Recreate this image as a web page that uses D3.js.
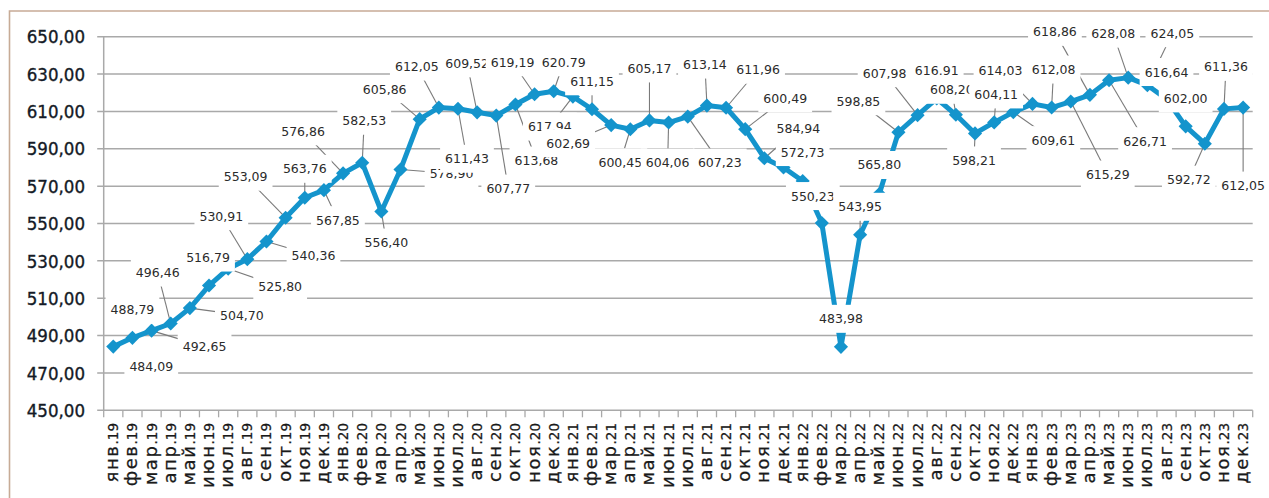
<!DOCTYPE html>
<html><head><meta charset="utf-8">
<script src="https://cdn.jsdelivr.net/npm/d3@7"></script>
<style>
html,body{margin:0;padding:0;background:#fff;}
svg{display:block;}
</style></head>
<body>
<svg id="chart" width="1269" height="498"></svg>
<script>
// ---------- DATA ----------
const monthNames = ["янв","фев","мар","апр","май","июн","июл","авг","сен","окт","ноя","дек"];
const years = ["19","20","21","22","23"];
const categories = years.flatMap(y => monthNames.map(m => m + "." + y));

const values = [
  484.09, 488.79, 492.65, 496.46, 504.70, 516.79, 525.80, 530.91, 540.36, 553.09, 563.76, 567.85,
  576.86, 582.53, 556.40, 578.90, 605.86, 612.05, 611.43, 609.52, 607.77, 613.68, 619.19, 620.79,
  617.94, 611.15, 602.69, 600.45, 605.17, 604.06, 607.23, 613.14, 611.96, 600.49, 584.94, 580.00,
  572.73, 550.23, 483.98, 543.95, 565.80, 598.85, 607.98, 616.91, 608.20, 598.21, 604.11, 609.61,
  614.03, 612.08, 615.29, 618.86, 626.71, 628.08, 624.05, 616.64, 602.00, 592.72, 611.36, 612.05
];

const labelTexts = [
  "484,09","488,79","492,65","496,46","504,70","516,79","525,80","530,91","540,36","553,09","563,76","567,85",
  "576,86","582,53","556,40","578,90","605,86","612,05","611,43","609,52","607,77","613,68","619,19","620.79",
  "617,94","611,15","602,69","600,45","605,17","604,06","607,23","613,14","611,96","600,49","584,94",null,
  "572,73","550,23","483,98","543,95","565,80","598,85","607,98","616.91","608,20","598,21","604,11","609,61",
  "614,03","612,08","615,29","618,86","626,71","628,08","624,05","616,64","602,00","592,72","611,36","612,05"
];

const yTicks = [450, 470, 490, 510, 530, 550, 570, 590, 610, 630, 650];

// ---------- LAYOUT (label placement, px offsets from the point) ----------
const labelOffsets = [
  [38,20],[0,-28],[53,16],[-13,-51],[52,7],[-1,-28],[52,18],[-26,-43],[47,14],[-40,-41],[0,-29],[14,30],
  [-40,-42],[2,-42],[5,31],[51,4],[-35,-30],[-22,-41],[9,50],[-10,-49],[-22,-32],[21,56],[-22,-32],[10,-29],
  [-23,30],[0,-28],[-43,18],[-10,33],[0,-52],[-1,40],[32,46],[-2,-41],[32,-38],[40,-31],[34,-30],[0,0],
  [0,-29],[-9,-27],[0,-28],[0,-28],[0,-29],[-40,-31],[-33,-42],[0,-28],[-4,-25],[-1,27],[2,-28],[40,28],
  [-32,-33],[2,-38],[37,73],[-35,-63],[36,61],[-15,-44],[25,-52],[0,-27],[0,-28],[-16,36],[2,-42],[0,78]
];
labelOffsets[20] = [12,73];
const noLeader = new Set([0,1,5,35,36,38,40,43,55,56]);

// ---------- CHART ----------
const svg = d3.select("#chart");
const W = 1269, H = 498;
const plotLeft = 103.7, plotRight = 1252.7, plotTop = 36.7, plotBottom = 410.3;

const x = d3.scaleBand().domain(categories).range([plotLeft, plotRight]).padding(0);
const y = d3.scaleLinear().domain([450, 650]).range([plotBottom, plotTop]);
const cx = d => x(d) + x.bandwidth() / 2;

// frame
svg.append("path")
  .attr("d", `M9.5,${H} L9.5,11 L${W},11`)
  .attr("fill", "none").attr("stroke", "#c7ab96").attr("stroke-width", 1.6);

// gridlines
const gridColor = "#a9a9a9";
svg.append("g").selectAll("line").data(yTicks).join("line")
  .attr("x1", plotLeft - 6.5).attr("x2", plotRight)
  .attr("y1", d => y(d)).attr("y2", d => y(d))
  .attr("stroke", gridColor).attr("stroke-width", 1.5);

// y axis line
svg.append("line")
  .attr("x1", plotLeft).attr("x2", plotLeft).attr("y1", plotTop).attr("y2", plotBottom)
  .attr("stroke", gridColor).attr("stroke-width", 1.5);

// x ticks at band boundaries
const boundaries = categories.map(c => x(c)).concat([plotRight]);
svg.append("g").selectAll("line").data(boundaries).join("line")
  .attr("x1", d => d).attr("x2", d => d)
  .attr("y1", plotBottom).attr("y2", plotBottom + 7)
  .attr("stroke", gridColor).attr("stroke-width", 1.3);

// y tick labels
const fmt = v => d3.format(".2f")(v).replace(".", ",");
svg.append("g").selectAll("text").data(yTicks).join("text")
  .attr("x", 85).attr("y", d => y(d)).attr("dy", "0.36em")
  .attr("text-anchor", "end")
  .attr("font-family", "'DejaVu Sans Condensed', 'DejaVu Sans', sans-serif")
  .style("font-stretch", "condensed")
  .attr("font-size", 18.5).attr("fill", "#141a26")
  .attr("stroke", "#141a26").attr("stroke-width", 0.35)
  .text(fmt);

// x tick labels (rotated)
const xl = svg.append("g").selectAll("text").data(categories).join("text")
  .attr("transform", d => `translate(${cx(d) + 5},423) rotate(-90)`)
  .attr("text-anchor", "end")
  .attr("font-family", "'DejaVu Sans', sans-serif")
  .attr("fill", "#1a1a1a")
  .attr("stroke", "#1a1a1a").attr("stroke-width", 0.25);
xl.append("tspan").attr("font-size", 18).attr("letter-spacing", 1.6).text(d => d.split(".")[0]);
xl.append("tspan").attr("font-size", 13.5).text(d => "." + d.split(".")[1]);

// data points
const pts = categories.map((c, i) => ({c, i, v: values[i], px: cx(c), py: y(values[i])}));

// leader lines
const leaderG = svg.append("g");
pts.forEach(p => {
  if (labelTexts[p.i] == null || noLeader.has(p.i)) return;
  const [dx, dy] = labelOffsets[p.i];
  leaderG.append("line")
    .attr("x1", p.px + dx).attr("y1", p.py + dy)
    .attr("x2", p.px).attr("y2", p.py)
    .attr("stroke", "#7a7a7a").attr("stroke-width", 1.1);
});

// line
const blue = "#1494cc";
svg.append("path").datum(pts)
  .attr("d", d3.line().x(d => d.px).y(d => d.py))
  .attr("fill", "none").attr("stroke", blue).attr("stroke-width", 5)
  .attr("stroke-linejoin", "round");

// markers (diamonds)
svg.append("g").selectAll("path").data(pts).join("path")
  .attr("transform", d => `translate(${d.px},${d.py}) rotate(45)`)
  .attr("d", d3.symbol().type(d3.symbolSquare).size(100))
  .attr("fill", blue);

// data labels with white boxes
const labG = svg.append("g");
pts.forEach(p => {
  const t = labelTexts[p.i];
  if (t == null) return;
  const [dx, dy] = labelOffsets[p.i];
  const lx = p.px + dx, ly = p.py + dy;
  const g = labG.append("g");
  const rect = g.append("rect").attr("fill", "#fff");
  const txt = g.append("text")
    .attr("x", lx).attr("y", ly).attr("dy", "0.36em")
    .attr("text-anchor", "middle")
    .attr("font-family", "'DejaVu Sans', sans-serif")
    .attr("font-size", 12.5).attr("fill", "#2b2b2b")
    .text(t);
  const w = txt.node().getComputedTextLength();
  rect.attr("x", lx - w / 2 - 5).attr("width", w + 10)
    .attr("y", ly - 14).attr("height", 28);
});
</script>
</body></html>
